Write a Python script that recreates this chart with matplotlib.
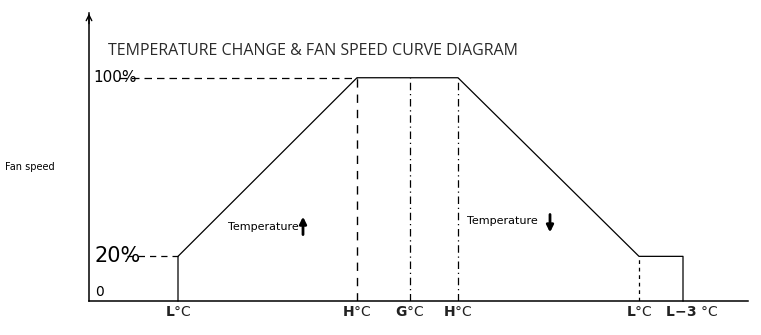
import matplotlib.pyplot as plt

# temperature breakpoints along the x axis (arbitrary units) and fan speed in %
temp_labels = [r"$\mathbf{L}$°C", r"$\mathbf{H}$°C", r"$\mathbf{G}$°C",
               r"$\mathbf{H}$°C", r"$\mathbf{L}$°C", r"$\mathbf{L\!-\!3}$ °C"]
temp_pos = [89, 268, 321, 369, 550, 594]
label_shift = [0, 0, 0, 0, 0, 9]
x_end = 659

curve_x = [89, 89, 268, 369, 550, 594, 594]
curve_y = [0, 20, 100, 100, 20, 20, 0]

speed_low = 20
speed_high = 100
y_top = 129

fig = plt.figure(figsize=(7.61, 3.35), dpi=100)
ax = fig.add_axes([89 / 761, 34 / 335, 659 / 761, 288 / 335])
ax.set_xlim(0, x_end)
ax.set_ylim(0, y_top)
for s in ["top", "right"]:
    ax.spines[s].set_visible(False)
ax.spines["left"].set_linewidth(1.1)
ax.spines["bottom"].set_linewidth(1.1)
ax.set_xticks([])
ax.set_yticks([])

# open arrow head on the y axis
ax.annotate("", xy=(0, y_top + 1), xytext=(0, y_top - 6),
            arrowprops=dict(arrowstyle="->", lw=1.0, color="black"),
            annotation_clip=False)

# speed curve
ax.plot(curve_x, curve_y, color="black", lw=0.9, clip_on=False)

# guide lines
ax.plot([30, temp_pos[1]], [speed_high, speed_high], color="black", lw=0.9,
        dashes=(6, 4))
ax.plot([38, temp_pos[0]], [speed_low, speed_low], color="black", lw=0.9,
        dashes=(5, 4))
ax.plot([temp_pos[1]] * 2, [0, speed_high], color="black", lw=1.0, dashes=(6, 5))
ax.plot([temp_pos[2]] * 2, [0, speed_high], color="black", lw=0.9,
        dashes=(6, 3, 1, 3))
ax.plot([temp_pos[3]] * 2, [0, speed_high], color="black", lw=0.9,
        dashes=(6, 3, 1, 3))
ax.plot([temp_pos[4]] * 2, [0, speed_low], color="black", lw=0.9, dashes=(3, 3))

# labels under the x axis
for lab, xp, dx in zip(temp_labels, temp_pos, label_shift):
    ax.text(xp + dx, -2, lab, ha="center", va="top", fontsize=10,
            color="#222222", clip_on=False)

ax.text(4, speed_high, "100%", ha="left", va="center", fontsize=11)
ax.text(5, speed_low, "20%", ha="left", va="center", fontsize=15)
ax.text(6, 4, "0", ha="left", va="center", fontsize=10)
ax.text(-84, 60, "Fan speed", ha="left", va="center", fontsize=7, clip_on=False)

ax.text(19, 112, "TEMPERATURE CHANGE & FAN SPEED CURVE DIAGRAM", ha="left",
        va="center", fontsize=11.5, family="Open Sans", color="#2a2a2a")

ax.text(139, 33, "Temperature", ha="left", va="center", fontsize=8)
ax.annotate("", xy=(214, 39), xytext=(214, 28.5),
            arrowprops=dict(arrowstyle="-|>", lw=2.0, color="black",
                            mutation_scale=10))
ax.text(378, 36, "Temperature", ha="left", va="center", fontsize=8)
ax.annotate("", xy=(461, 29.5), xytext=(461, 40),
            arrowprops=dict(arrowstyle="-|>", lw=2.0, color="black",
                            mutation_scale=10))

plt.savefig("out.png", dpi=100)
